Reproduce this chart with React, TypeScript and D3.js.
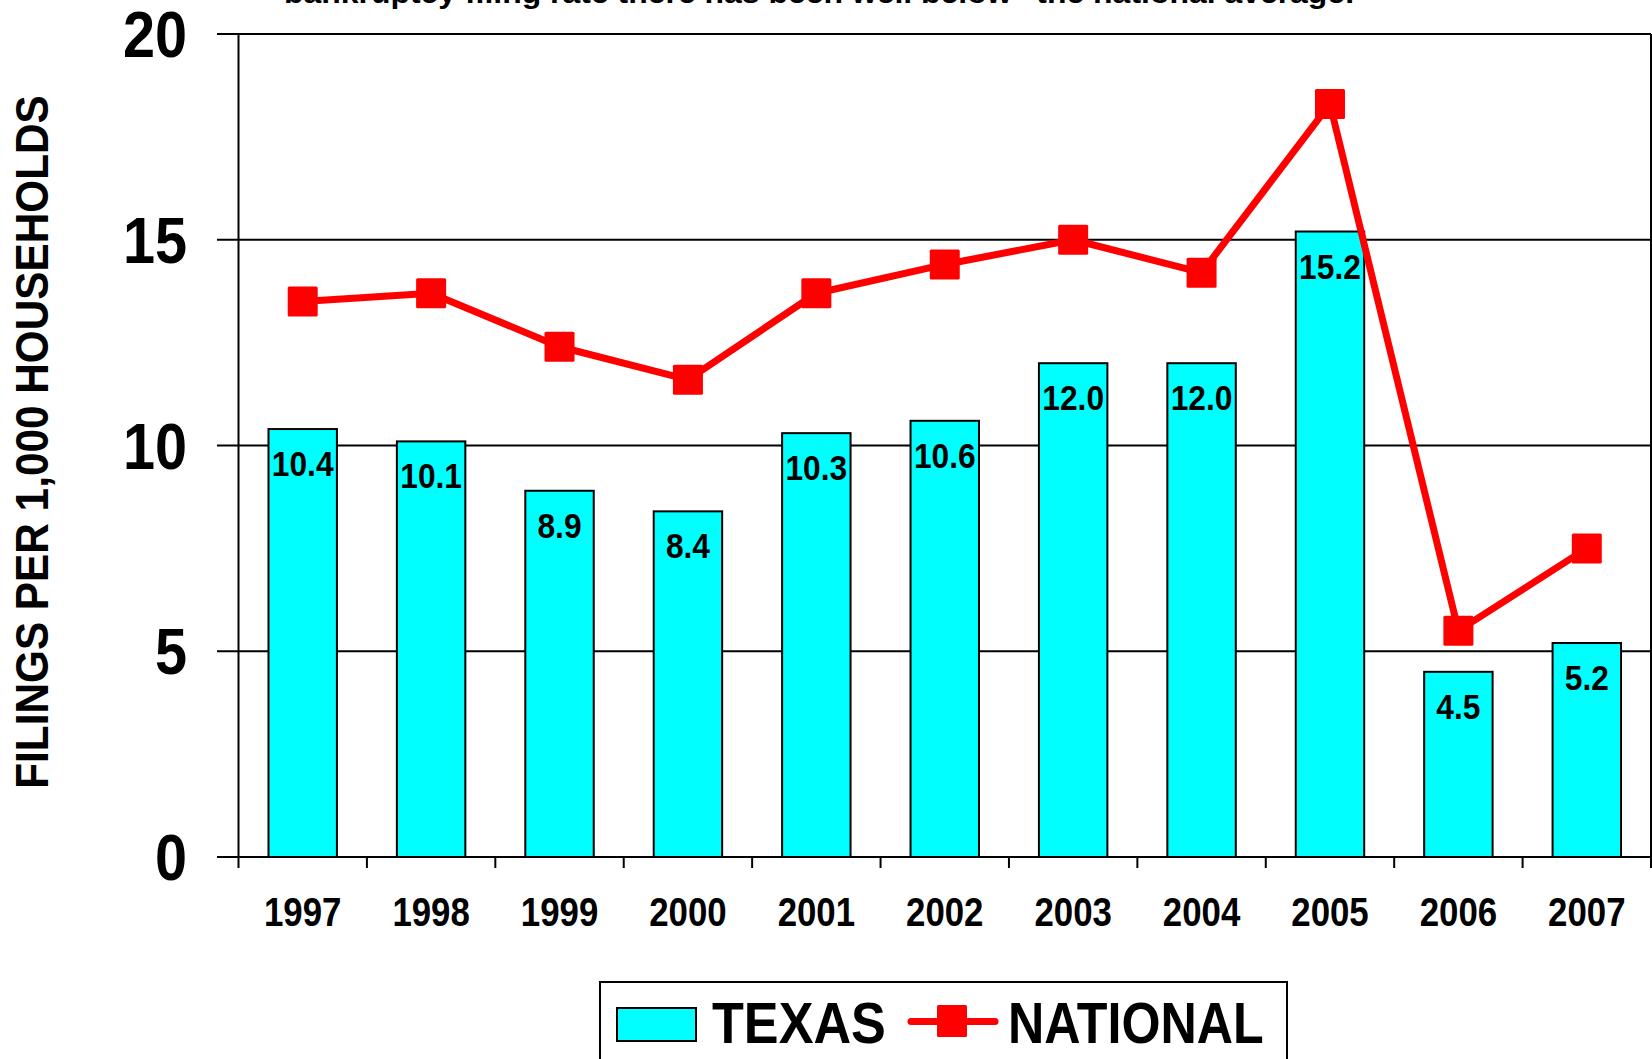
import React from "react";
import * as d3 from "d3";

const years = ["1997", "1998", "1999", "2000", "2001", "2002", "2003", "2004", "2005", "2006", "2007"];
const texasValues = [10.4, 10.1, 8.9, 8.4, 10.3, 10.6, 12.0, 12.0, 15.2, 4.5, 5.2];
const nationalValues = [13.5, 13.7, 12.4, 11.6, 13.7, 14.4, 15.0, 14.2, 18.3, 5.5, 7.5];
const yTicks = [0, 5, 10, 15, 20];
const yAxisTitle = "FILINGS PER 1,000 HOUSEHOLDS";
const titleText = "bankruptcy filing rate there has been well below\u201D the national average.";
const legendTexas = "TEXAS";
const legendNational = "NATIONAL";

const W = 1652;
const H = 1059;
const FONT = "'Liberation Sans', Arial, Helvetica, sans-serif";

function SText({ x, y, sx = 1, anchor = "middle", size, children, rotate = 0, weight = "bold" }: any) {
  return (
    <text
      transform={`translate(${x},${y}) rotate(${rotate}) scale(${sx},1)`}
      textAnchor={anchor}
      fontFamily={FONT}
      fontWeight={weight}
      fontSize={size}
      fill="#000"
    >
      {children}
    </text>
  );
}

export default function App() {
  const left = 238.5;
  const right = 1651;
  const top = 34;
  const bottom = 857;

  const x = d3.scaleBand<string>().domain(years).range([left, right]).paddingInner(0).paddingOuter(0);
  const y = d3.scaleLinear().domain([0, 20]).range([bottom, top]);
  const bw = x.bandwidth() * 0.533;
  const cx = (d: string) => (x(d) as number) + x.bandwidth() / 2;

  const line = d3
    .line<number>()
    .x((_, i) => cx(years[i]))
    .y((v) => y(v));

  const ms = 30;

  return (
    <div style={{ position: "absolute", left: 0, top: 0, width: W, height: H, background: "#fff" }}>
      <svg width={W} height={H} viewBox={`0 0 ${W} ${H}`} style={{ display: "block" }}>
        <rect x={0} y={0} width={W} height={H} fill="#fff" />

        {/* title (cut off at top, as in the reference) */}
        <text
          x={284}
          y={3}
          textLength={1070}
          lengthAdjust="spacingAndGlyphs"
          fontFamily={FONT}
          fontWeight="bold"
          fontSize={30}
          fill="#000"
        >
          {titleText}
        </text>

        {/* gridlines */}
        {yTicks.map((t) => (
          <line key={t} x1={217} x2={right} y1={y(t)} y2={y(t)} stroke="#000" strokeWidth={2.2} />
        ))}

        {/* y axis */}
        <line x1={left} x2={left} y1={top} y2={bottom + 11} stroke="#000" strokeWidth={2} />
        {/* right border */}
        <line x1={right} x2={right} y1={top} y2={bottom} stroke="#000" strokeWidth={2} />

        {/* x ticks */}
        {years.map((d) => (
          <line
            key={"t" + d}
            x1={(x(d) as number) + x.bandwidth()}
            x2={(x(d) as number) + x.bandwidth()}
            y1={bottom}
            y2={bottom + 11}
            stroke="#000"
            strokeWidth={2}
          />
        ))}

        {/* y tick labels */}
        {yTicks.map((t) => (
          <SText key={"yl" + t} x={187} y={y(t) + 23} sx={0.9} anchor="end" size={64}>
            {String(t)}
          </SText>
        ))}

        {/* x labels */}
        {years.map((d) => (
          <SText key={"xl" + d} x={cx(d)} y={926} sx={0.87} size={40}>
            {d}
          </SText>
        ))}

        {/* y axis title */}
        <SText x={48} y={442} rotate={-90} sx={0.92} size={46}>
          {yAxisTitle}
        </SText>

        {/* bars */}
        {years.map((d, i) => (
          <rect
            key={"b" + d}
            x={cx(d) - bw / 2}
            y={y(texasValues[i])}
            width={bw}
            height={bottom - y(texasValues[i])}
            fill="#00FFFF"
            stroke="#000"
            strokeWidth={2}
          />
        ))}

        {/* bar labels */}
        {years.map((d, i) => (
          <SText key={"bl" + d} x={cx(d)} y={y(texasValues[i]) + 47} sx={0.92} size={34.5}>
            {texasValues[i].toFixed(1)}
          </SText>
        ))}

        {/* national line */}
        <path
          d={line(nationalValues) as string}
          fill="none"
          stroke="#FF0000"
          strokeWidth={7}
          strokeLinejoin="round"
          strokeLinecap="round"
        />
        {years.map((d, i) => (
          <rect
            key={"m" + d}
            x={cx(d) - ms / 2}
            y={y(nationalValues[i]) - ms / 2}
            width={ms}
            height={ms}
            rx={1.5}
            fill="#FF0000"
          />
        ))}

        {/* legend */}
        <rect x={600} y={982} width={687} height={120} fill="#fff" stroke="#000" strokeWidth={2} />
        <rect x={617} y={1008} width={79} height={33} fill="#00FFFF" stroke="#000" strokeWidth={2} />
        <SText x={712} y={1043} sx={0.92} anchor="start" size={56.7}>
          {legendTexas}
        </SText>
        <line x1={911} x2={995} y1={1021.5} y2={1021.5} stroke="#FF0000" strokeWidth={7} strokeLinecap="round" />
        <rect x={937} y={1005} width={30} height={32} rx={1.5} fill="#FF0000" />
        <SText x={1008} y={1043} sx={0.886} anchor="start" size={56.7}>
          {legendNational}
        </SText>
      </svg>
    </div>
  );
}
